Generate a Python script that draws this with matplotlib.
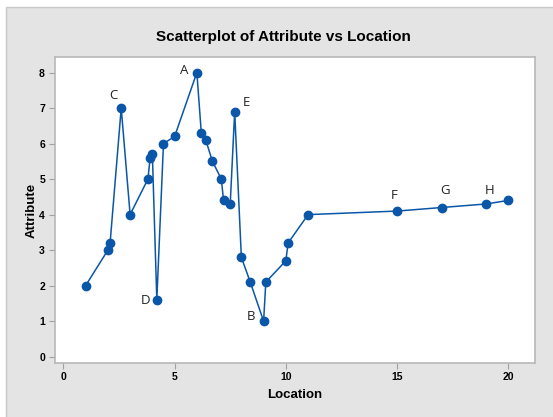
import matplotlib.pyplot as plt
from matplotlib.patches import Rectangle

# данные
location = [1.0, 2.0, 2.1, 2.6, 3.0, 3.8, 3.9, 4.0, 4.2, 4.5, 5.0, 6.0, 6.2, 6.4, 6.7,
            7.1, 7.2, 7.5, 7.7, 8.0, 8.4, 9.0, 9.1, 10.0, 10.1, 11.0, 15.0, 17.0, 19.0, 20.0]
attribute = [2.0, 3.0, 3.2, 7.0, 4.0, 5.0, 5.6, 5.7, 1.6, 6.0, 6.2, 8.0, 6.3, 6.1, 5.5,
             5.0, 4.4, 4.3, 6.9, 2.8, 2.1, 1.0, 2.1, 2.7, 3.2, 4.0, 4.1, 4.2, 4.3, 4.4]

# подписи отдельных точек
labels = ["A", "B", "C", "D", "E", "F", "G", "H"]
label_idx = [11, 21, 3, 8, 18, 26, 27, 28]
label_offsets = [(-13, 2), (-13, 5), (-8, 13), (-11, -1), (12, 9), (-3, 16), (3, 17), (3, 13)]

xticks = [0, 5, 10, 15, 20]
yticks = [0, 1, 2, 3, 4, 5, 6, 7, 8]

narrow = ['Liberation Sans', 'DejaVu Sans']
blue = '#0a56a8'

fig = plt.figure(figsize=(5.53, 4.17), dpi=100)
fig.patch.set_facecolor('white')
# серая панель под осями
fig.add_artist(Rectangle((6 / 553, -0.01), 1, 1 - 7 / 417 + 0.01, transform=fig.transFigure,
                         facecolor='#e4e4e4', edgecolor='#c8c8c8', linewidth=1, zorder=-10))

ax = fig.add_axes([0.0989, 0.1302, 0.8686, 0.7324])
ax.set_zorder(1)
ax.set_facecolor('white')
ax.plot(location, attribute, color=blue, linewidth=1.1, marker='o', markersize=6,
        markerfacecolor=blue, markeredgecolor=blue)

for lab, i, off in zip(labels, label_idx, label_offsets):
    ax.annotate(lab, (location[i], attribute[i]), xytext=off, textcoords='offset pixels',
                ha='center', va='center', fontsize=9.5, color='#222222',
                family=['Open Sans', 'DejaVu Sans'])

ax.set_xlim(-0.39, 21.2)
ax.set_ylim(-0.17, 8.43)
ax.set_xticks(xticks)
ax.set_yticks(yticks)
ax.set_xticklabels([str(t) for t in xticks], family=narrow, fontweight='bold', fontsize=7.5)
ax.set_yticklabels([str(t) for t in yticks], family=narrow, fontweight='bold', fontsize=7.5)
ax.tick_params(direction='out', length=4, width=0.8, color='#a0a0a0', pad=3)

for s in ax.spines.values():
    s.set_color('#b8b8b8')
    s.set_linewidth(1.2)

ax.set_xlabel("Location", family=narrow, fontweight='bold', fontsize=9.5, labelpad=5)
ax.set_ylabel("Attribute", family=narrow, fontweight='bold', fontsize=9.5, labelpad=1)

fig.text(283.5 / 553, 1 - 37 / 417, "Scatterplot of Attribute vs Location", ha='center', va='center',
         family=narrow, fontweight='bold', fontsize=11)

fig.savefig("out.png", dpi=100)
